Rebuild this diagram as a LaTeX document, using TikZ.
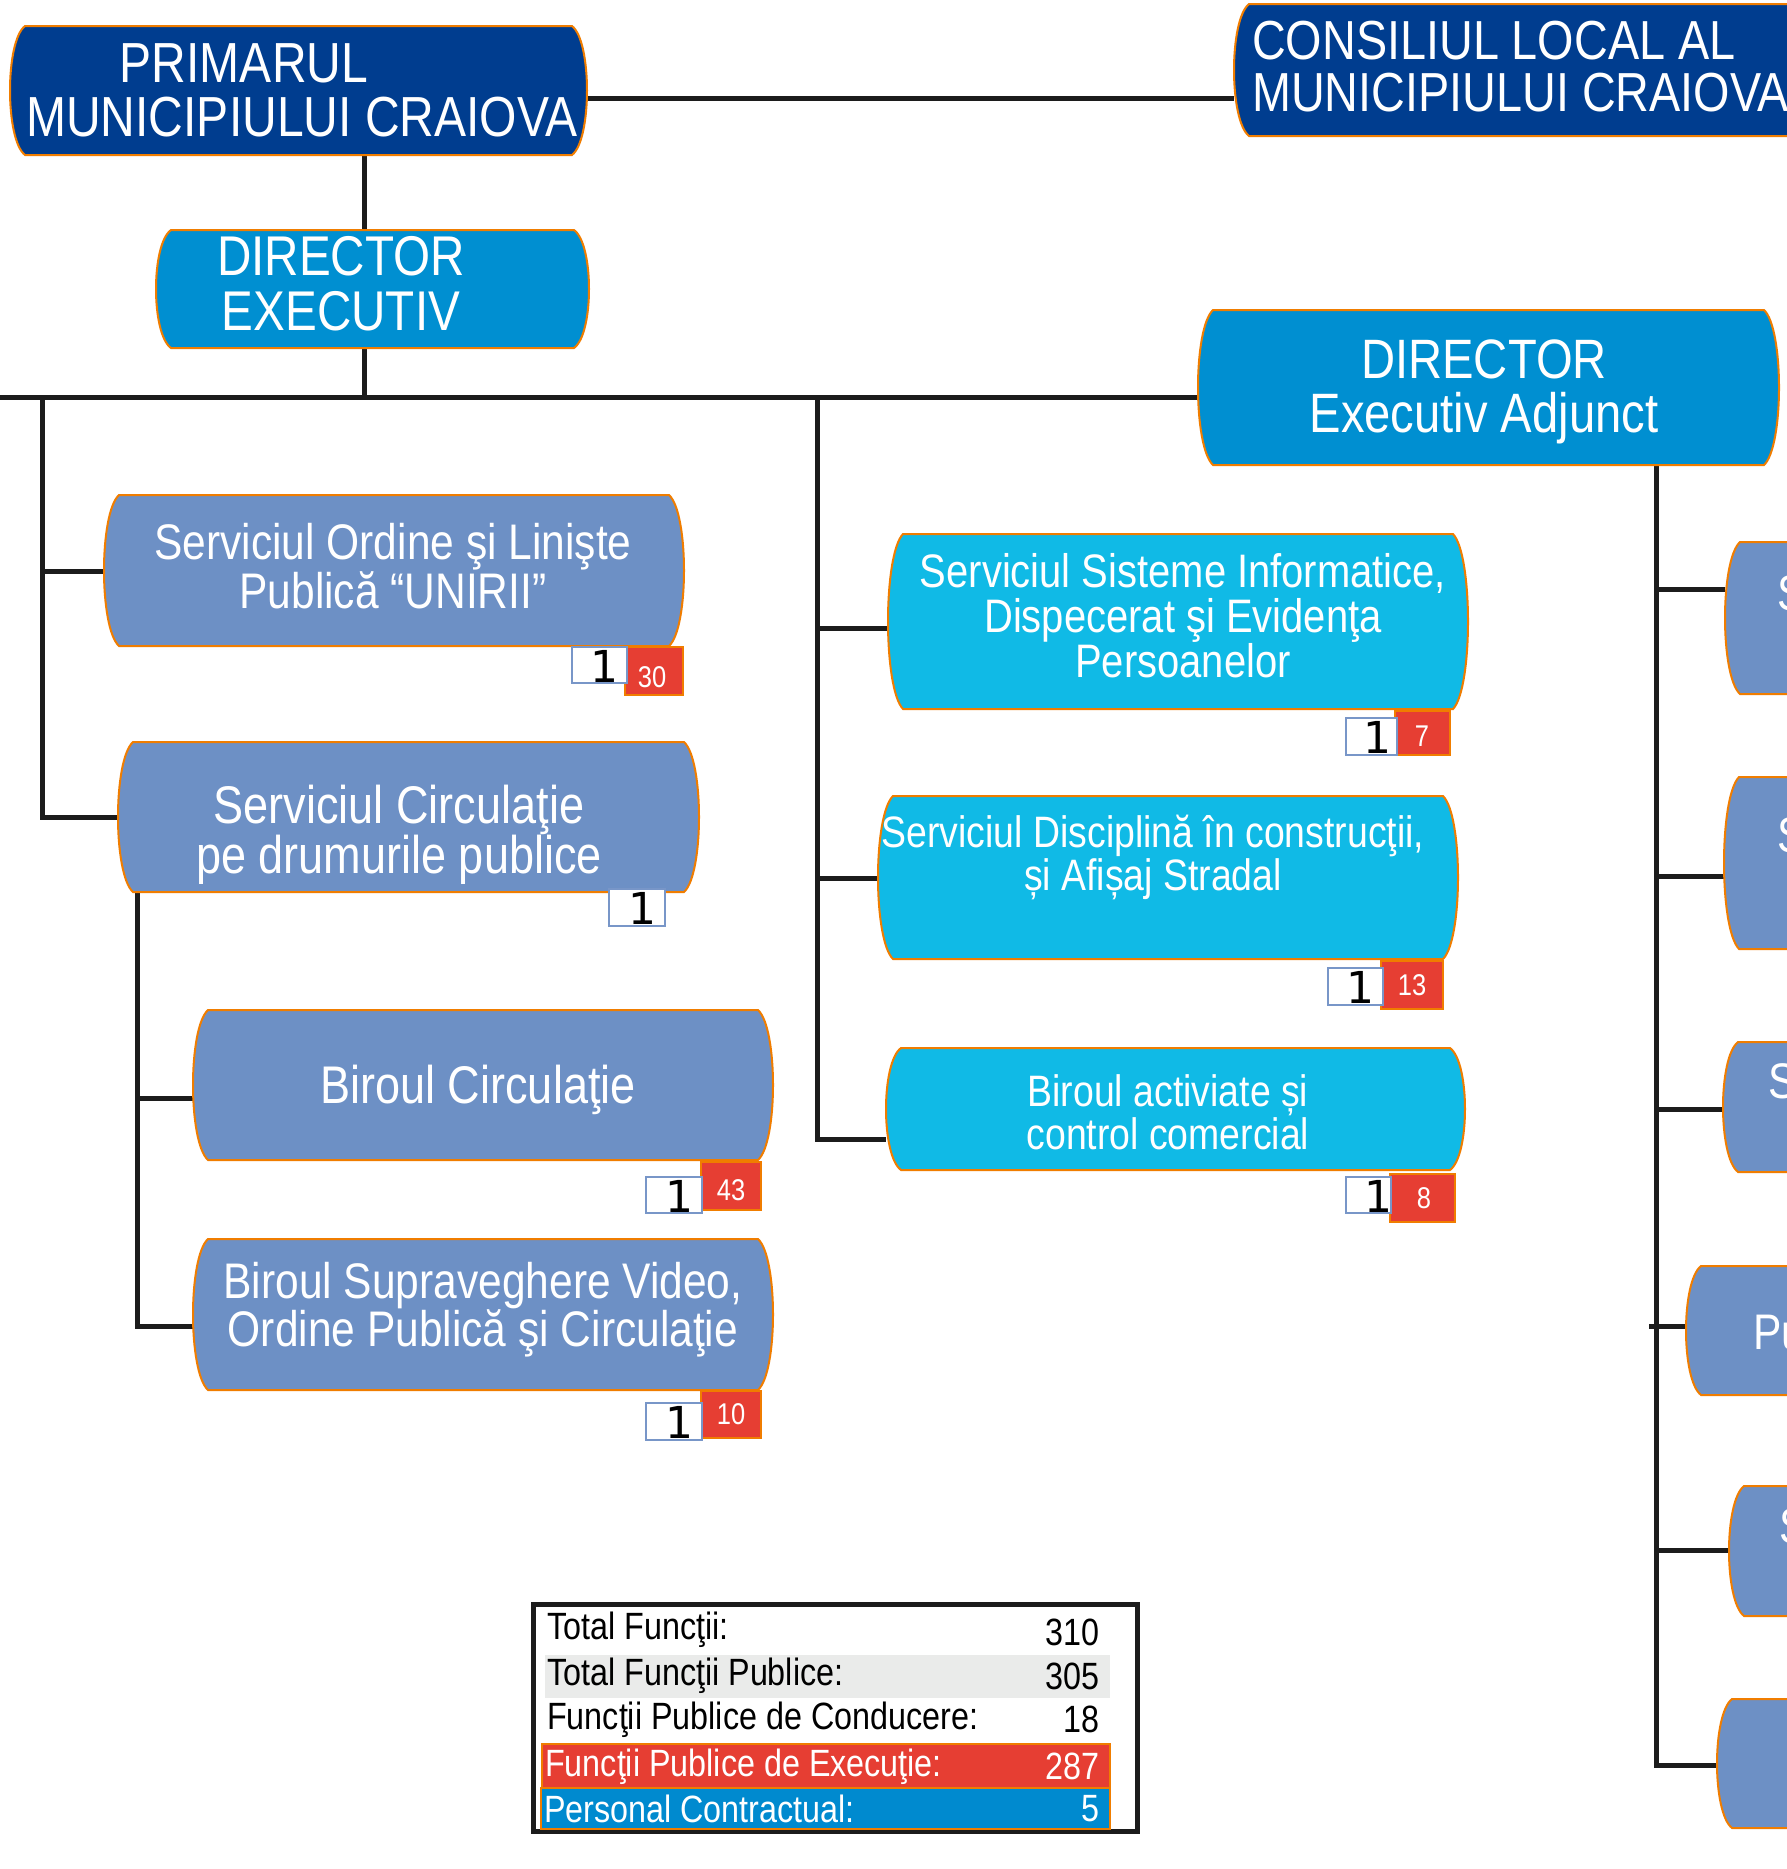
\documentclass[tikz,border=0pt]{standalone}
\usepackage{fontspec}
\newfontfamily\nar{Liberation Sans}[FakeStretch=0.85]
\newfontfamily\djv{DejaVu Sans}
\usetikzlibrary{calc,backgrounds}
\definecolor{dkblue}{RGB}{0,61,143}
\definecolor{mdblue}{RGB}{0,143,209}
\definecolor{cyanb}{RGB}{16,186,230}
\definecolor{steel}{RGB}{109,144,197}
\definecolor{redb}{RGB}{230,62,51}
\definecolor{orl}{RGB}{240,125,0}
\definecolor{lin}{RGB}{28,28,28}
\definecolor{greyr}{RGB}{234,235,234}
\definecolor{tblue}{RGB}{0,138,207}
\definecolor{wbord}{RGB}{120,150,200}
\newcommand\myfs[2]{\nar\fontsize{#1pt}{#2pt}\selectfont}
\newcommand\barrel[2]{%
 \path[fill=#2, draw=orl, line width=2pt]
 ($(#1.north west)+(15,0)$) -- ($(#1.north east)+(-15,0)$)
 .. controls ($(#1.north east)!0.12!(#1.south east)+(5,0)$) and ($(#1.north east)!0.88!(#1.south east)+(5,0)$) .. ($(#1.south east)+(-15,0)$)
 -- ($(#1.south west)+(15,0)$)
 .. controls ($(#1.south west)!0.12!(#1.north west)+(-5,0)$) and ($(#1.south west)!0.88!(#1.north west)+(-5,0)$) .. cycle;}
\tikzset{
 shp/.style={draw=none, inner sep=0pt, outer sep=0pt},
 tx/.style={text=white, align=center, inner sep=0pt},
 conn/.style={draw=lin, line width=5pt},
 redbadge/.style={fill=redb, draw=orl, line width=1.5pt, inner sep=0pt, outer sep=0pt},
 whitebadge/.style={fill=white, draw=wbord, line width=1.5pt, inner sep=0pt, outer sep=0pt},
 one/.style={inner sep=0pt, font=\djv\fontsize{44pt}{44pt}\selectfont},
 rednum/.style={inner sep=0pt, text=white, font=\myfs{30}{30}},
 tlab/.style={inner sep=0pt, anchor=west, font=\myfs{38}{38}},
 tnum/.style={inner sep=0pt, anchor=east, font=\myfs{38}{38}},
}
\begin{document}
\begin{tikzpicture}[x=1pt,y=-1pt]
\useasboundingbox (0,0) rectangle (1786,1869);
\clip (0,0) rectangle (1786,1869);
% box shapes
\node[shp, minimum width=577pt, minimum height=129pt] (prim) at (298.5,90.5) {};
\node[shp, minimum width=586pt, minimum height=132pt] (cons) at (1527,70) {};
\node[shp, minimum width=433pt, minimum height=118pt] (dexe) at (372.5,289) {};
\node[shp, minimum width=581pt, minimum height=155pt] (dea) at (1488.5,387.5) {};
\node[shp, minimum width=580pt, minimum height=151pt] (L1) at (394,570.5) {};
\node[shp, minimum width=581pt, minimum height=150pt] (L2) at (408.5,817) {};
\node[shp, minimum width=580pt, minimum height=150pt] (B1) at (483,1085) {};
\node[shp, minimum width=580pt, minimum height=151pt] (B2) at (483,1314.5) {};
\node[shp, minimum width=580pt, minimum height=175pt] (M1) at (1178,621.5) {};
\node[shp, minimum width=580pt, minimum height=163pt] (M2) at (1168,877.5) {};
\node[shp, minimum width=579pt, minimum height=122pt] (M3) at (1175.5,1109) {};
\node[shp, minimum width=580pt, minimum height=152pt] (R1) at (2015,618) {};
\node[shp, minimum width=580pt, minimum height=172pt] (R2) at (2014,863) {};
\node[shp, minimum width=580pt, minimum height=130pt] (R3) at (2013,1107) {};
\node[shp, minimum width=580pt, minimum height=129pt] (R4) at (1976,1330.5) {};
\node[shp, minimum width=580pt, minimum height=130pt] (R5) at (2019,1551) {};
\node[shp, minimum width=580pt, minimum height=129pt] (R6) at (2007,1763.5) {};
\coordinate (busL) at (0,397);
\coordinate (j1) at (364,397);
\coordinate (lvtop) at (42,397);
\coordinate (lvb1) at (42,571);
\coordinate (cvtop) at (817,397);
\coordinate (rvbot) at (1656,1765);
\begin{scope}[on background layer]
\fill[white] (0,0) rectangle (1786,1869);
% connectors
\draw[conn] (prim.east |- 0,98) -- (cons.west |- 0,98);
\draw[conn] (prim.south -| 364,0) -- (dexe.north -| 364,0);
\draw[conn] (dexe.south -| 364,0) -- (j1);
\draw[conn] (busL) -- (dea.west |- busL);
\draw[conn] (lvtop) |- (L2.west);
\draw[conn] (lvb1) -- (L1.west |- lvb1);
\draw[conn] (L2.south -| 137,0) |- (B2.west |- 0,1326);
\draw[conn] (137,1098) -- (B1.west |- 0,1098);
\draw[conn] (cvtop) |- (M3.west |- 0,1139);
\draw[conn] (817,628) -- (M1.west |- 0,628);
\draw[conn] (817,878) -- (M2.west |- 0,878);
\draw[conn] (dea.south -| rvbot) -- (rvbot) -- (R6.west |- rvbot);
\draw[conn] (1656,589) -- (R1.west |- 0,589);
\draw[conn] (1656,876) -- (R2.west |- 0,876);
\draw[conn] (1656,1109) -- (R3.west |- 0,1109);
\draw[conn] (1649,1326) -- (R4.west |- 0,1326);
\draw[conn] (1656,1550) -- (R5.west |- 0,1550);
% shapes
\barrel{prim}{dkblue}
\barrel{cons}{dkblue}
\barrel{dexe}{mdblue}
\barrel{dea}{mdblue}
\barrel{L1}{steel}
\barrel{L2}{steel}
\barrel{B1}{steel}
\barrel{B2}{steel}
\barrel{M1}{cyanb}
\barrel{M2}{cyanb}
\barrel{M3}{cyanb}
\barrel{R1}{steel}
\barrel{R2}{steel}
\barrel{R3}{steel}
\barrel{R4}{steel}
\barrel{R5}{steel}
\barrel{R6}{steel}
\end{scope}
% texts
\node[tx, font=\myfs{56.5}{54}] (primA) at (244,63) {PRIMARUL};
\node[tx, font=\myfs{56.5}{54}] (primB) at (302,117) {MUNICIPIULUI CRAIOVA};
\node[tx, align=left, anchor=west, font=\myfs{55}{52}] (consT) at (1252,67) {CONSILIUL LOCAL AL\\MUNICIPIULUI CRAIOVA};
\node[tx, font=\myfs{56}{55}] (dexeT) at (341,283.5) {DIRECTOR\\EXECUTIV};
\node[tx, font=\myfs{55.5}{54}] (deaT) at (1484,392) {DIRECTOR\\Executiv Adjunct};
\node[tx, font=\myfs{50}{47}] (L1T) at (393,566) {Serviciul Ordine şi Linişte\\Publică “UNIRII”};
\node[tx, font=\myfs{53}{50}] (L2T) at (399,835) {Serviciul Circulaţie\\pe drumurile publice};
\node[tx, font=\myfs{53}{50}] (B1T) at (478,1090) {Biroul Circulaţie};
\node[tx, font=\myfs{50}{47}] (B2T) at (483,1310) {Biroul Supraveghere Video,\\Ordine Publică şi Circulaţie};
\node[tx, font=\myfs{47}{45}] (M1T) at (1183,616) {Serviciul Sisteme Informatice,\\Dispecerat şi Evidenţa\\Persoanelor};
\node[tx, font=\myfs{44}{43}] (M2T) at (1153,857) {Serviciul Disciplină în construcţii,\\și Afișaj Stradal};
\node[tx, font=\myfs{44}{43}] (M3T) at (1168,1112) {Biroul activiate și\\control comercial};
\node[tx, anchor=west, font=\myfs{50}{47}] (R1T) at (1777,593) {S};
\node[tx, anchor=west, font=\myfs{50}{47}] (R2T) at (1777,835) {S};
\node[tx, anchor=west, font=\myfs{50}{47}] (R3T) at (1768,1081) {S};
\node[tx, anchor=west, font=\myfs{50}{47}] (R4T) at (1753,1333) {Pu};
\node[tx, anchor=west, font=\myfs{50}{47}] (R5T) at (1779,1526) {S};
% badges
\node[redbadge, minimum width=58pt, minimum height=48pt] (L1r) at (654,671) {};
\node[rednum] (L1rn) at (652,677) {30};
\node[whitebadge, minimum width=55pt, minimum height=36pt] (L1w) at (599.5,665) {};
\node[one] (L1wn) at (604,666) {1};
\node[whitebadge, minimum width=56pt, minimum height=37pt] (L2w) at (637,907.5) {};
\node[one] (L2wn) at (642,908.5) {1};
\node[redbadge, minimum width=60pt, minimum height=48pt] (B1r) at (731,1186) {};
\node[rednum] (B1rn) at (731,1190) {43};
\node[whitebadge, minimum width=56pt, minimum height=36pt] (B1w) at (674,1195) {};
\node[one] (B1wn) at (679,1196) {1};
\node[redbadge, minimum width=60pt, minimum height=47pt] (B2r) at (731,1414.5) {};
\node[rednum] (B2rn) at (731,1414) {10};
\node[whitebadge, minimum width=56pt, minimum height=37pt] (B2w) at (674,1421.5) {};
\node[one] (B2wn) at (679,1422.5) {1};
\node[redbadge, minimum width=55pt, minimum height=44pt] (M1r) at (1422.5,733) {};
\node[rednum] (M1rn) at (1422,736) {7};
\node[whitebadge, minimum width=51pt, minimum height=37pt] (M1w) at (1371.5,736.5) {};
\node[one] (M1wn) at (1377,737.5) {1};
\node[redbadge, minimum width=62pt, minimum height=48pt] (M2r) at (1412,985) {};
\node[rednum] (M2rn) at (1412,985) {13};
\node[whitebadge, minimum width=55pt, minimum height=37pt] (M2w) at (1355.5,986.5) {};
\node[one] (M2wn) at (1360,987.5) {1};
\node[redbadge, minimum width=65pt, minimum height=48pt] (M3r) at (1422.5,1198) {};
\node[rednum] (M3rn) at (1424,1198) {8};
\node[whitebadge, minimum width=45pt, minimum height=36pt] (M3w) at (1368.5,1195) {};
\node[one] (M3wn) at (1378,1196) {1};
% table
\node[draw=lin, line width=5pt, minimum width=604pt, minimum height=227pt, inner sep=0pt] (tbl) at (835,1717.5) {};
\node[fill=greyr, minimum width=565pt, minimum height=43pt, inner sep=0pt] (row2) at (827.5,1676.5) {};
\node[fill=redb, draw=orl, line width=1.5pt, minimum width=568pt, minimum height=44pt, inner sep=0pt] (row4) at (826,1766) {};
\node[fill=tblue, draw=orl, line width=1.5pt, minimum width=569pt, minimum height=41pt, inner sep=0pt] (row5) at (825.5,1808.5) {};
\node[tlab] (t1) at (547,1630) {Total Funcţii:};
\node[tnum] (n1) at (1100,1632) {310};
\node[tlab] (t2) at (547,1676) {Total Funcţii Publice:};
\node[tnum] (n2) at (1100,1676) {305};
\node[tlab] (t3) at (547,1720) {Funcţii Publice de Conducere:};
\node[tnum] (n3) at (1100,1719) {18};
\node[tlab, text=white] (t4) at (545,1767) {Funcţii Publice de Execuţie:};
\node[tnum, text=white] (n4) at (1100,1766) {287};
\node[tlab, text=white] (t5) at (544,1809) {Personal Contractual:};
\node[tnum, text=white] (n5) at (1100,1809) {5};
\end{tikzpicture}
\end{document}
